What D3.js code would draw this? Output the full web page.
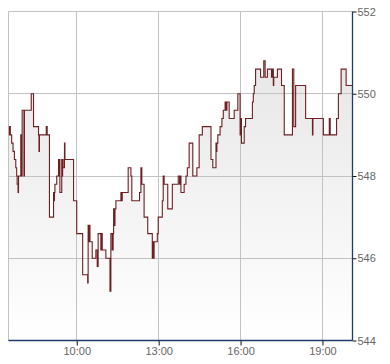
<!DOCTYPE html>
<html>
<head>
<meta charset="utf-8">
<script src="https://cdn.jsdelivr.net/npm/d3@7"></script>
<style>
  body { margin: 0; background: #fff; }
  svg { display: block; }
  .tick text { font-family: Arial, "Liberation Sans", sans-serif; font-size: 11px; fill: #666; }
</style>
</head>
<body>
<svg id="chart" width="390" height="364"></svg>
<script>
// trade times and prices (step after each time)
const times = [
  '07:31', '07:32', '07:33', '07:34', '07:37', '07:40', '07:43', '07:46', '07:48', '07:49',
  '07:51', '07:52', '07:57', '07:59', '08:00', '08:04', '08:05', '08:20', '08:25', '08:36',
  '08:37', '08:38', '08:53', '08:55', '09:00', '09:09', '09:10', '09:11', '09:12', '09:16',
  '09:20', '09:21', '09:22', '09:23', '09:27', '09:28', '09:29', '09:30', '09:33', '09:34',
  '09:53', '10:00', '10:13', '10:24', '10:25', '10:26', '10:28', '10:29', '10:34', '10:42',
  '10:45', '10:47', '10:53', '10:54', '10:56', '11:04', '11:13', '11:15', '11:18', '11:20',
  '11:21', '11:23', '11:24', '11:26', '11:37', '11:38', '11:40', '11:53', '11:59', '12:01',
  '12:18', '12:21', '12:23', '12:28', '12:36', '12:46', '12:48', '12:49', '12:50', '12:57',
  '12:59', '13:08', '13:10', '13:12', '13:20', '13:30', '13:43', '13:46', '13:47', '13:49',
  '13:56', '14:00', '14:03', '14:07', '14:15', '14:24', '14:29', '14:36', '14:55', '14:59',
  '15:06', '15:07', '15:08', '15:10', '15:15', '15:19', '15:22', '15:26', '15:28', '15:30',
  '15:35', '15:46', '15:54', '15:59', '16:01', '16:02', '16:08', '16:11', '16:26', '16:28',
  '16:30', '16:33', '16:44', '16:51', '16:54', '16:59', '17:08', '17:10', '17:12', '17:13',
  '17:21', '17:30', '17:36', '17:54', '17:57', '18:01', '18:23', '18:38', '18:39', '19:02',
  '19:15', '19:17', '19:31', '19:35', '19:41', '19:52', '20:05'
];
const prices = [
  549.2, 549.0, 549.2, 549.0, 548.8, 548.6, 548.4, 548.2, 548.0, 547.8,
  547.6, 548.0, 549.0, 548.0, 549.6, 548.0, 549.6, 550.0, 549.2, 549.0,
  548.6, 549.0, 549.2, 549.0, 547.0, 547.6, 547.4, 547.6, 547.8, 548.0,
  548.4, 548.0, 548.4, 547.6, 548.4, 548.0, 548.4, 548.2, 548.8, 548.4,
  547.4, 546.6, 545.6, 545.4, 546.8, 546.4, 546.8, 546.4, 546.0, 546.2,
  545.8, 546.6, 546.2, 546.6, 546.2, 546.0, 545.2, 546.6, 546.2, 546.6,
  547.2, 546.8, 547.2, 547.4, 547.6, 547.4, 547.6, 548.2, 548.0, 547.4,
  547.6, 548.2, 547.8, 547.0, 546.6, 546.0, 546.4, 546.0, 546.4, 546.6,
  547.0, 547.4, 548.0, 547.8, 547.2, 547.8, 548.0, 547.8, 548.0, 547.6,
  547.8, 548.0, 548.2, 548.8, 548.0, 548.2, 549.0, 549.2, 548.4, 548.2,
  548.8, 548.6, 548.8, 549.0, 549.2, 549.4, 549.6, 549.8, 549.6, 549.8,
  549.4, 549.6, 550.0, 549.0, 549.4, 548.8, 549.2, 549.4, 549.8, 550.0,
  550.2, 550.6, 550.4, 550.8, 550.4, 550.6, 550.4, 550.6, 550.2, 550.4,
  550.6, 550.2, 549.0, 550.6, 549.2, 550.2, 549.4, 549.0, 549.4, 549.0,
  549.4, 549.0, 549.4, 550.0, 550.6, 550.2, 550.2
];
const priceTicks = [544, 546, 548, 550, 552];
const timeTicks = ['10:00', '13:00', '16:00', '19:00'];
const timeRange = ['07:30', '20:06'];

const parseTime = d3.timeParse('%H:%M');
const data = times.map((t, i) => ({ time: parseTime(t), price: prices[i] }));

const margin = { top: 11, right: 38, bottom: 24, left: 8 };
const svg = d3.select('#chart');
const width = +svg.attr('width') - margin.left - margin.right;
const height = +svg.attr('height') - margin.top - margin.bottom;

const chart = svg.append('g').attr('transform', `translate(${margin.left + 0.5},${margin.top + 0.5})`);

const xScale = d3.scaleTime().domain(timeRange.map(parseTime)).range([0, width]);
const yScale = d3.scaleLinear().domain([priceTicks[0], priceTicks[priceTicks.length - 1]]).range([height, 0]);

const grad = svg.append('defs').append('linearGradient')
  .attr('id', 'fillGrad')
  .attr('gradientUnits', 'userSpaceOnUse')
  .attr('x1', 0).attr('y1', 0).attr('x2', 0).attr('y2', height);
grad.append('stop').attr('offset', 0).attr('stop-color', '#e3e3e3');
grad.append('stop').attr('offset', 1).attr('stop-color', '#ffffff');

chart.append('path')
  .datum(data)
  .attr('fill', 'url(#fillGrad)')
  .attr('d', d3.area()
    .curve(d3.curveStepAfter)
    .x((d) => xScale(d.time))
    .y0(height)
    .y1((d) => yScale(d.price)));

// grid
const gridColor = '#c2c2c2';
chart.append('g')
  .selectAll('line')
  .data(priceTicks)
  .join('line')
  .attr('x1', 0).attr('x2', width)
  .attr('y1', (d) => Math.round(yScale(d))).attr('y2', (d) => Math.round(yScale(d)))
  .attr('stroke', gridColor);
chart.append('g')
  .selectAll('line')
  .data([timeRange[0], ...timeTicks].map(parseTime))
  .join('line')
  .attr('x1', (d) => Math.round(xScale(d))).attr('x2', (d) => Math.round(xScale(d)))
  .attr('y1', 0).attr('y2', height)
  .attr('stroke', gridColor);

chart.append('path')
  .datum(data)
  .attr('fill', 'none')
  .attr('stroke', '#6e1f22')
  .attr('stroke-width', 1.1)
  .attr('d', d3.line()
    .curve(d3.curveStepAfter)
    .x((d) => xScale(d.time))
    .y((d) => yScale(d.price)));

const axisColor = '#1d3b6b';

const xAxisG = chart.append('g')
  .attr('transform', `translate(0,${height})`)
  .call(d3.axisBottom(xScale)
    .tickValues(timeTicks.map(parseTime))
    .tickSize(5)
    .tickPadding(2)
    .tickFormat(d3.timeFormat('%H:%M')));

const yAxisG = chart.append('g')
  .attr('transform', `translate(${width},0)`)
  .call(d3.axisRight(yScale)
    .tickValues(priceTicks)
    .tickSize(4)
    .tickPadding(1));

chart.selectAll('.domain').remove();
chart.selectAll('.tick line').attr('stroke', '#111');
xAxisG.attr('font-family', null).attr('font-size', null);
yAxisG.attr('font-family', null).attr('font-size', null);

chart.append('line')
  .attr('x1', 0).attr('x2', width)
  .attr('y1', height).attr('y2', height)
  .attr('stroke', axisColor).attr('stroke-width', 1.3);
chart.append('line')
  .attr('x1', width).attr('x2', width)
  .attr('y1', 0).attr('y2', height)
  .attr('stroke', axisColor).attr('stroke-width', 1.3);
</script>
</body>
</html>
